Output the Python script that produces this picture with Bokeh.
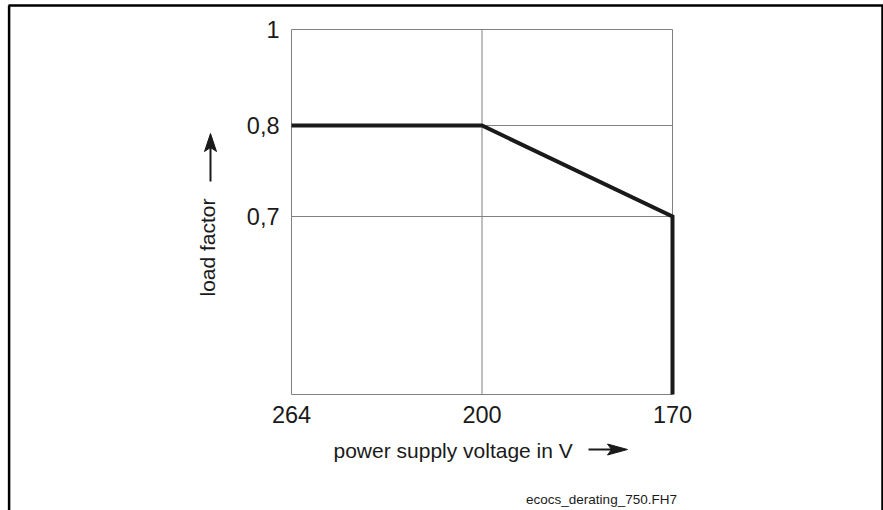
import numpy as np
from bokeh.plotting import figure
from bokeh.models import Range1d, FixedTicker
from bokeh.core.properties import value
from bokeh.embed import file_html
from bokeh.resources import INLINE

# ---------------- data ----------------
voltages = [264, 200, 170]            # power supply voltage in V (schematic axis, equally spaced)
load_factor = [0.8, 0.8, 0.7]         # load factor at those voltages
x_tick_labels = ["264", "200", "170"]
y_tick_values = [0.7, 0.8, 1.0]
y_tick_labels = ["0,7", "0,8", "1"]
x_label = "power supply voltage in V"
y_label = "load factor"
footnote = "ecocs_derating_750.FH7"

# ---------------- layout constants ----------------
W, H = 883, 510
BOX_L, BOX_R, BOX_T, BOX_B = 291, 672, 29, 394     # chart box on the page (px)
Y_TICK_POS = [178, 269, 365]        # schematic heights of 0,7 / 0,8 / 1 above the box bottom
Y_BOTTOM = 0
TEXT = "#1a1a1a"
GRID = "#808080"
FONT = "Liberation Sans"

PX_PER_X = (BOX_R - BOX_L) / (len(voltages) - 1)
def X(px):
    return (px - BOX_L) / PX_PER_X
def Y(py):
    return BOX_B - py

def x_scale(v):
    return voltages.index(v)

def y_scale(v):
    return float(np.interp(v, y_tick_values, Y_TICK_POS))

xs = [x_scale(v) for v in voltages] + [x_scale(voltages[-1])]
ys = [y_scale(v) for v in load_factor] + [Y_BOTTOM]

p = figure(width=W, height=H, output_backend="svg", toolbar_location=None,
           x_range=Range1d(X(0), X(W)), y_range=Range1d(Y(H), Y(0)),
           min_border=0)
p.outline_line_color = None
p.background_fill_color = "white"
p.border_fill_color = "white"
p.grid.visible = False

# axes (placed on the box edges)
x_ticks = [x_scale(v) for v in voltages]
p.xaxis.ticker = FixedTicker(ticks=x_ticks)
p.xaxis.major_label_overrides = {t: lab for t, lab in zip(x_ticks, x_tick_labels)}
p.xaxis.fixed_location = Y_BOTTOM
p.yaxis.ticker = FixedTicker(ticks=Y_TICK_POS)
p.yaxis.major_label_overrides = {pos: lab for pos, lab in zip(Y_TICK_POS, y_tick_labels)}
p.yaxis.fixed_location = x_ticks[0]
for ax in (p.xaxis, p.yaxis):
    ax.axis_line_color = None
    ax.major_tick_line_color = None
    ax.minor_tick_line_color = None
    ax.major_tick_in = 0
    ax.major_tick_out = 0
    ax.major_label_text_font = FONT
    ax.major_label_text_font_size = "23.5px"
    ax.major_label_text_color = TEXT
p.xaxis.major_label_standoff = 11
p.yaxis.major_label_standoff = 12

# box and grid lines
top = Y_TICK_POS[-1]
p.segment(x0=x_ticks, y0=[Y_BOTTOM] * len(x_ticks), x1=x_ticks, y1=[top] * len(x_ticks),
          line_color=GRID, line_width=1)
h_lines = [Y_BOTTOM] + Y_TICK_POS
p.segment(x0=[x_ticks[0]] * len(h_lines), y0=h_lines, x1=[x_ticks[-1]] * len(h_lines), y1=h_lines,
          line_color=GRID, line_width=1)

# derating curve
p.line(xs, ys, line_width=4, line_color=TEXT, line_join="miter")

# axis titles
p.text(x=[X(207)], y=[Y(247)], text=[y_label], angle=np.pi / 2,
       text_align="center", text_baseline="alphabetic",
       text_font=value(FONT), text_font_size=value("21px"), text_color=TEXT)
p.text(x=[X(333)], y=[Y(450)], text=[x_label],
       text_align="left", text_baseline="alphabetic",
       text_font=value(FONT), text_font_size=value("21px"), text_color=TEXT)
p.text(x=[X(601)], y=[Y(498.5)], text=[footnote],
       text_align="center", text_baseline="alphabetic",
       text_font=value(FONT), text_font_size=value("13.5px"), text_color=TEXT)

# arrows next to the axis titles (shaft + barbed head)
p.segment(x0=[X(210), X(588)], y0=[Y(181), Y(449)], x1=[X(210), X(612)], y1=[Y(146), Y(449)],
          line_color=TEXT, line_width=2)
p.patches(xs=[[X(210), X(204), X(210), X(216)], [X(627), X(607), X(611), X(607)]],
          ys=[[Y(133), Y(151), Y(147), Y(151)], [Y(449), Y(443.5), Y(449), Y(454.5)]],
          fill_color=TEXT, line_color=TEXT, line_width=1)

# outer frame lines
p.segment(x0=[X(8), X(8.6), X(882)], y0=[Y(5), Y(5), Y(5)],
          x1=[X(883), X(8.6), X(882)], y1=[Y(5), Y(H), Y(H)],
          line_color="black", line_width=2.5)

open("out.html", "w").write(file_html(p, INLINE))
